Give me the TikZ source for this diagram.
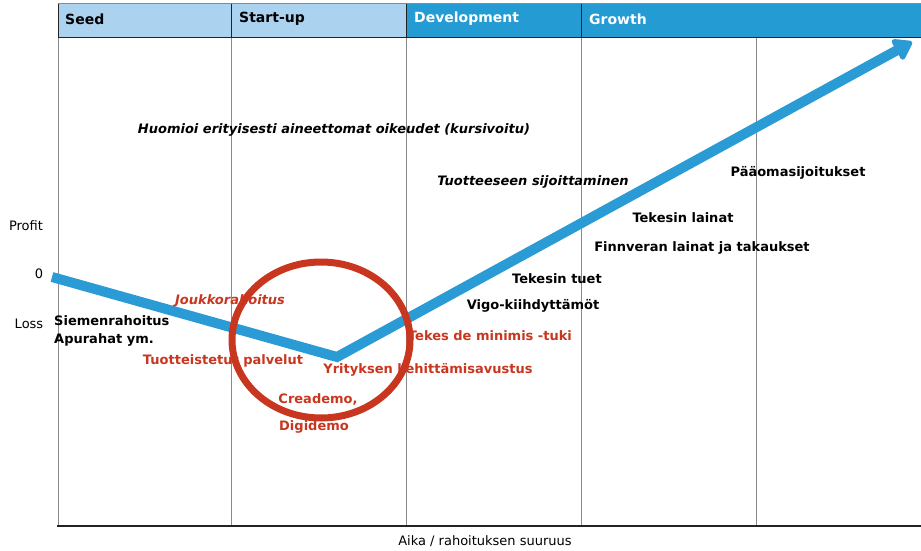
\documentclass[tikz,border=0pt]{standalone}
\usepackage{fontspec}
\setmainfont{DejaVu Sans}
\usetikzlibrary{arrows.meta}
\definecolor{phaseLight}{HTML}{ABD2EF}
\definecolor{phaseDark}{HTML}{259BD3}
\definecolor{curveBlue}{HTML}{2A9BD4}
\definecolor{focusRed}{HTML}{C8361F}
\definecolor{gridGray}{HTML}{8A8A8A}
\definecolor{axisDark}{HTML}{222222}

\begin{document}
\begin{tikzpicture}[
    x=1pt,y=-1pt,>=Latex,
    every node/.style={font=\fontsize{13}{15}\selectfont,inner sep=1pt},
    phase/.style={anchor=west,font=\bfseries\fontsize{14}{16}\selectfont},
    finance/.style={font=\bfseries\fontsize{13}{18}\selectfont},
    finnote/.style={font=\bfseries\itshape\fontsize{13}{15}\selectfont},
    redfin/.style={text=focusRed,font=\bfseries\fontsize{13}{15}\selectfont},
    axislabel/.style={font=\fontsize{13}{15}\selectfont},
    grid/.style={draw=gridGray,line width=1pt},
    curve/.style={-{Triangle[length=20pt,width=26pt,round]},draw=curveBlue,line width=10pt,line join=miter}
]
\useasboundingbox (0,0) rectangle (921,551);
% header
\fill[phaseLight] (58,4) rectangle (406,38);
\fill[phaseDark] (406,4) rectangle (921,38);
\draw[gridGray,line width=1.5pt] (58,3.5) -- (921,3.5);
\draw[axisDark,line width=1pt] (58,38) -- (921,38);
\foreach \xc in {58,231,406,581}
  \draw[axisDark,line width=1pt] (\xc,4) -- (\xc,38);
\node[phase] (seed) at (64,19) {Seed};
\node[phase] (startup) at (238,19) {Start-up};
\node[phase,text=white] (devel) at (413,19) {Development};
\node[phase,text=white] (growth) at (588,19) {Growth};
% grid
\foreach \xc in {231,406,581,756}
  \draw[grid] (\xc,38) -- (\xc,526);
\draw[grid] (58,38) -- (58,526);
\draw[axisDark,line width=2pt] (57,526) -- (921,526);
% axis labels
\node[axislabel] (profit) at (26,226) {Profit};
\node[axislabel] (zerolbl) at (39,274) {0};
\node[axislabel] (loss) at (29,324) {Loss};
\node[axislabel] (timeaxis) at (485,541) {Aika / rahoituksen suuruus};
% curve
\coordinate (start) at (52,277);
\coordinate (dip) at (337,357);
\coordinate (tip) at (912,42);
\draw[curve] (start) -- (dip) -- (tip);
% funding labels
\node[finnote] (note) at (334,130) {Huomioi erityisesti aineettomat oikeudet (kursivoitu)};
\node[finnote] (product) at (533,182) {Tuotteeseen sijoittaminen};
\node[finance] (equity) at (798,173) {Pääomasijoitukset};
\node[finance] (tekesloan) at (683,218) {Tekesin lainat};
\node[finance] (finnvera) at (702,248) {Finnveran lainat ja takaukset};
\node[finance] (tekessupp) at (557,279) {Tekesin tuet};
\node[finance] (vigo) at (533,306) {Vigo-kiihdyttämöt};
\node[redfin] (deminimis) at (490,336) {Tekes de minimis -tuki};
\node[redfin] (kehitys) at (428,370) {Yrityksen kehittämisavustus};
\node[redfin,font=\bfseries\itshape\fontsize{13}{15}\selectfont] (crowd) at (230,301) {Joukkorahoitus};
\node[redfin] (services) at (223,361) {Tuotteistetut palvelut};
\node[redfin] (creademo) at (318,399) {Creademo,};
\node[redfin] (digidemo) at (314,427) {Digidemo};
\node[finance,anchor=west,align=left] (seedfund) at (53,331) {Siemenrahoitus\\Apurahat ym.};
% focus ellipse
\draw[focusRed,line width=7pt] (321,340) ellipse (89pt and 78pt);
\end{tikzpicture}
\end{document}
